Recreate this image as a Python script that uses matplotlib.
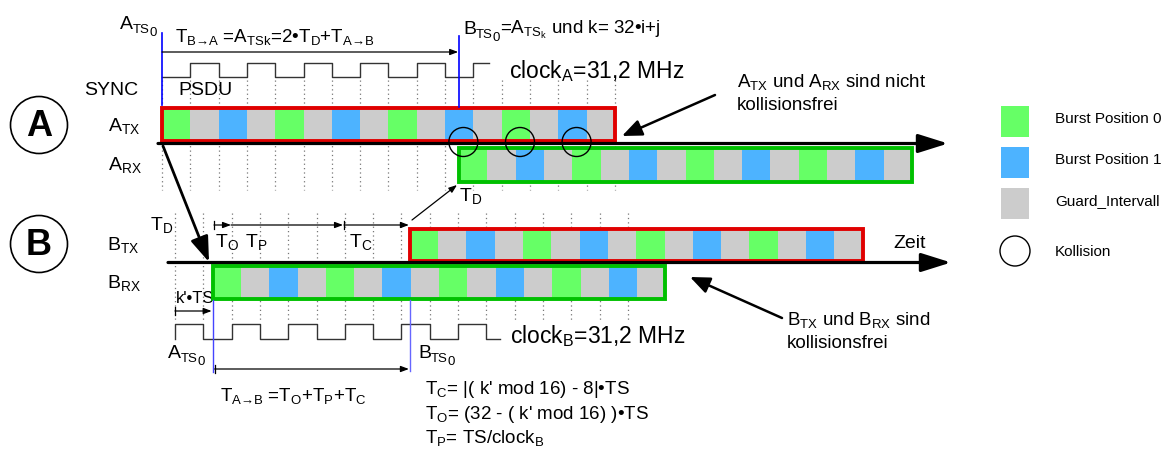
import matplotlib.pyplot as plt
from matplotlib.patches import Rectangle, Circle

plt.rcParams['font.family'] = ['Liberation Sans', 'DejaVu Sans']
plt.rcParams['mathtext.fontset'] = 'custom'
plt.rcParams['mathtext.rm'] = 'Liberation Sans'
plt.rcParams['mathtext.it'] = 'Liberation Sans:italic'
plt.rcParams['mathtext.bf'] = 'Liberation Sans:bold'

# -------------------------
# Diagram data (time measured in slots)
# -------------------------
SLOT = 28.3                    # one slot in pixels
A_ORIGIN = 162                 # A_TS0
B_ORIGIN = 175                 # start of B grid
N_SLOTS = 16
burst_cycle = ['Burst Position 0', 'Guard_Intervall', 'Burst Position 1', 'Guard_Intervall']
legend_items = ['Burst Position 0', 'Burst Position 1', 'Guard_Intervall']
cell_colors = {'Burst Position 0': '#66ff66',
               'Burst Position 1': '#4db3ff',
               'Guard_Intervall': '#cccccc'}

a_tx_start = 0.0
a_rx_start = 10.5
collision_slots = [10.65, 12.65, 14.65]
clock_a_levels = [0, 1, 0, 1, 0, 1, 0, 1, 0, 1, 0, 1]
clock_a_end = 11.55

b_rx_start = 1.33
b_tx_start = 8.3
clock_b_levels = [1, 0, 1, 0, 1, 0, 1, 0, 1, 0, 1, 0]
clock_b_end = 11.5

formulas = ["= |( k' mod 16) - 8|•TS", "= (32 - ( k' mod 16) )•TS", "= TS/clock"]


def m(s):
    return r'$\mathregular{' + s + '}$'


fig = plt.figure(figsize=(11.76, 4.61), dpi=100)
ax = fig.add_axes([0, 0, 1, 1])
ax.set_xlim(0, 1176)
ax.set_ylim(461, 0)
ax.axis('off')
renderer = fig.canvas.get_renderer()


def chain(x, y, pieces):
    # pieces: (text, fontsize, downward shift in px)
    for s, fs, dy in pieces:
        t = ax.text(x, y + dy, s, fontsize=fs)
        x += t.get_window_extent(renderer).width


def ts0(x, y, base, fs=14, rest=None):
    pieces = [(base, fs, 0), ('TS', fs * 0.68, 4), ('0', fs * 0.68, 7)]
    if rest:
        pieces.append(rest)
    chain(x, y, pieces)


def slot_x(origin, s):
    return origin + s * SLOT


def burst_box(origin, start, y_top, h, edge):
    x0 = slot_x(origin, start)
    for i in range(N_SLOTS):
        kind = burst_cycle[i % len(burst_cycle)]
        ax.add_patch(Rectangle((x0 + i * SLOT, y_top), SLOT, h,
                               fc=cell_colors[kind], ec='none', zorder=3))
    ax.add_patch(Rectangle((x0, y_top), N_SLOTS * SLOT, h, fill=False,
                           ec=edge, lw=2.8, zorder=4))


def clock(origin, levels, end, y_hi, y_lo, start_edge=False):
    xs, ys = [], []
    if start_edge:
        xs.append(origin)
        ys.append(y_lo)
    for i, lev in enumerate(levels):
        xa = slot_x(origin, i)
        xb = slot_x(origin, min(i + 1, end))
        y = y_hi if lev else y_lo
        xs += [xa, xb]
        ys += [y, y]
    ax.plot(xs, ys, color='#333333', lw=1.0, zorder=2)


def grid(origin, y0, y1):
    for n in range(N_SLOTS + 1):
        x = slot_x(origin, n)
        ax.plot([x, x], [y0, y1], color='#777777', lw=0.9,
                ls=(0, (1, 2.5)), zorder=1)


def arrow(p0, p1, lw=1.0, head=0.4, width=0.15, ms=14):
    ax.annotate('', xy=p1, xytext=p0,
                arrowprops=dict(arrowstyle=f'-|>,head_length={head},head_width={width}',
                                lw=lw, color='black', shrinkA=0, shrinkB=0,
                                mutation_scale=ms), zorder=7)


def tick(x, y, h=4):
    ax.plot([x, x], [y - h, y + h], color='black', lw=0.9, zorder=7)


# --- Section A ---
grid(A_ORIGIN, 80, 190)
clock(A_ORIGIN, clock_a_levels, clock_a_end, 63, 77)
burst_box(A_ORIGIN, a_tx_start, 107.5, 33, '#e00000')
burst_box(A_ORIGIN, a_rx_start, 148, 33.5, '#00c000')
arrow((158, 143.5), (948, 143.5), lw=2.3, head=0.7, width=0.22, ms=26)

for s in collision_slots:
    ax.add_patch(Circle((slot_x(A_ORIGIN, s), 142), 14.5, fill=False,
                        ec='black', lw=1.0, zorder=6))

ax.plot([A_ORIGIN, A_ORIGIN], [33, 105], color='#0000ff', lw=1.2, zorder=6)
x_bts = slot_x(A_ORIGIN, a_rx_start)
ax.plot([x_bts, x_bts], [36, 107], color='#0000ff', lw=1.2, zorder=6)
arrow((A_ORIGIN, 52), (x_bts - 1, 52), lw=0.9, ms=12)

ts0(120, 29, 'A')
ax.text(175, 42, m('T_{B→A}') + ' =' + m('A_{TSk}') + '=2•' + m('T_D') + '+' + m('T_{A→B}'),
        fontsize=13.5)
ts0(463, 34, 'B', fs=14, rest=('=' + m('A_{TS_k}') + ' und k= 32•i+j', 13.5, 0))
ax.text(84, 95, 'SYNC', fontsize=14)
ax.text(178, 95, 'PSDU', fontsize=14)
ax.text(509, 78, m('clock_A') + '=31,2 MHz', fontsize=16.5)
ax.text(108, 131, m('A_{TX}'), fontsize=14)
ax.text(108, 170, m('A_{RX}'), fontsize=14)
ax.text(737, 87, m('A_{TX}') + ' und ' + m('A_{RX}') + ' sind nicht', fontsize=13.5)
ax.text(737, 110, 'kollisionsfrei', fontsize=13.5)
arrow((715, 95), (622, 136), lw=1.8, head=0.6, width=0.25, ms=20)

ax.add_patch(Circle((39, 125), 28.5, fill=False, ec='black', lw=1.2))
ax.text(39, 126, 'A', fontsize=26, fontweight='bold', ha='center', va='center')

# --- transfer arrows ---
arrow((163, 146), (209, 262), lw=2.0, head=0.7, width=0.25, ms=22)
arrow((412, 220), (457, 185), lw=0.9, ms=12)
ax.text(459, 201, m('T_D'), fontsize=14)

# --- Section B ---
grid(B_ORIGIN, 213, 320)
clock(B_ORIGIN, clock_b_levels, clock_b_end, 324, 339, start_edge=True)
burst_box(B_ORIGIN, b_tx_start, 228.5, 32.5, '#e00000')
burst_box(B_ORIGIN, b_rx_start, 265.5, 33, '#00c000')
arrow((168, 262.5), (951, 262.5), lw=2.3, head=0.7, width=0.22, ms=26)

x_rx = slot_x(B_ORIGIN, b_rx_start)
x_tx = slot_x(B_ORIGIN, b_tx_start)
ax.plot([x_rx, x_rx], [300, 372], color='#4444ff', lw=1.0, zorder=6)
ax.plot([x_tx, x_tx], [300, 371], color='#6666ff', lw=1.0, zorder=6)

# T_O, T_P, T_C measures
tick(214, 225)
arrow((214, 225), (231, 225), lw=0.9, ms=12)
arrow((231, 225), (343, 225), lw=0.9, ms=12)
tick(344, 225)
arrow((344, 225), (x_tx - 1, 225), lw=0.9, ms=12)
# k'*TS measure
tick(B_ORIGIN, 311)
arrow((B_ORIGIN, 311), (x_rx - 1, 311), lw=0.9, ms=12)
# T_A->B measure
tick(x_rx + 2, 369)
arrow((x_rx + 2, 369), (x_tx - 1, 369), lw=0.9, ms=12)

ax.text(150, 230, m('T_D'), fontsize=14)
ax.text(107, 250, m('B_{TX}'), fontsize=14)
ax.text(107, 288, m('B_{RX}'), fontsize=14)
ax.text(215, 247, m('T_O'), fontsize=14)
ax.text(245, 247, m('T_P'), fontsize=14)
ax.text(349, 247, m('T_C'), fontsize=14)
ax.text(176, 303, "k'•TS", fontsize=12)
ts0(168, 358, 'A')
ts0(418, 358, 'B')
ax.text(510, 343, m('clock_B') + '=31,2 MHz', fontsize=16.5)
ax.text(893, 248, 'Zeit', fontsize=14)
ax.text(787, 325, m('B_{TX}') + ' und ' + m('B_{RX}') + ' sind', fontsize=13.5)
ax.text(787, 348, 'kollisionsfrei', fontsize=13.5)
arrow((782, 318), (690, 277), lw=1.8, head=0.6, width=0.25, ms=20)

ax.text(220, 401, m('T_{A→B}') + ' =' + m('T_O') + '+' + m('T_P') + '+' + m('T_C'), fontsize=13.5)
ax.text(425, 394, m('T_C') + formulas[0], fontsize=13.5)
ax.text(425, 419, m('T_O') + formulas[1], fontsize=13.5)
ax.text(425, 443, m('T_P') + formulas[2] + m('_B'), fontsize=13.5)

ax.add_patch(Circle((39, 244), 28.5, fill=False, ec='black', lw=1.2))
ax.text(39, 245, 'B', fontsize=26, fontweight='bold', ha='center', va='center')

# --- Legend ---
for i, name in enumerate(legend_items):
    y = 106 + i * 41
    ax.add_patch(Rectangle((1001, y), 28, 31, fc=cell_colors[name], ec='none'))
    ax.text(1055, y + 17, name, fontsize=11)
ax.add_patch(Circle((1015, 251), 15, fill=False, ec='black', lw=1.0))
ax.text(1055, 256, 'Kollision', fontsize=11)

fig.savefig('out.png', dpi=100)
